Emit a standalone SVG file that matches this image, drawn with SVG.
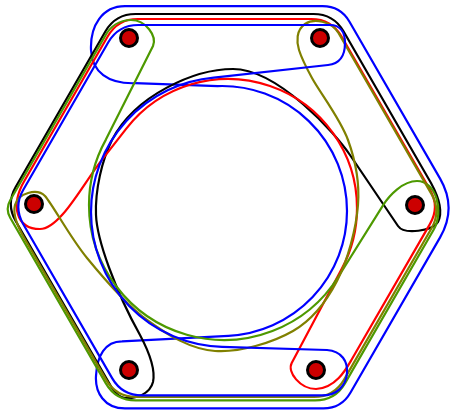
<svg xmlns="http://www.w3.org/2000/svg" width="451" height="416" viewBox="0 0 451 416">
<style>
.c{fill:none;stroke-width:2.2;stroke-linejoin:round;stroke-linecap:round}
.n{fill:#cc0000;stroke:#000;stroke-width:3}
</style>
<rect width="451" height="416" fill="#fff"/>
<g id="connectors">
<path id="blue-outer" class="c" stroke="#0000ff" d="M125,6.1 L322.5,6.1 Q340.5,6.1 349.5,21.7 L440.1,178.6 Q457.1,208 440.1,237.4 L350.4,392.8 Q341.4,408.4 323.4,408.4 L125,408.4 C104,408.4 95,392 96,376 C97,356 105,341.4 122,341.4 L228.5,335.8 A125 125 0 0 0 347,211 A125 125 0 0 0 217.6,86.1 L135,83.2 C108,84 92,72 91,50 C90,26 102,6.1 125,6.1 Z"/>
<path id="black" class="c" stroke="#000000" d="M112,388 L15.8,221.3 Q5.8,204 15.8,186.7 L105.5,31.3 Q115.5,14 135.5,14 L313.5,14 Q333.5,14 343.5,31.3 L431,183 C437,194 444,210 438,222 C433,231 404,235 398,226 L350,155 C336,134 278,69 233,69 C195,69 135,95 112,140 C102,160 95,190 96,215 C97,240 115,290 140,335 C148,350 156,368 153,382 C150,394 136,399 125,398 C119,397 115,393 112,388 Z"/>
<path id="red" class="c" stroke="#ff0000" d="M137.8,19 L311.4,19 Q331.4,19 341.4,36.3 L429.9,189.5 Q439.9,206.8 429.9,224.1 L351.4,360 C346.4,368.7 336,388 316,389 C300,389 287,372 291.7,363.1 L341.9,268.6 A129 129 0 0 0 357,208 A129 129 0 0 0 126.3,128.6 L101.7,160.1 C83.2,183.7 60,229 40,229 C16,229 10.3,205.2 24.3,181 L107.8,36.3 Q117.8,19 137.8,19 Z"/>
<path id="green" class="c" stroke="#4d9900" d="M105.1,36 C110,27 119,20 131,20 C146,20 157,36 153,46 L105.9,139.6 A135 135 0 0 0 89,205 A135 135 0 0 0 338.5,276.5 L383,205.3 C389.4,195.1 403,181 417,181 C436,181 444.5,211 433.5,230 L345.1,383.1 Q335.1,400.4 315.1,400.4 L135.7,400.4 Q115.7,400.4 105.7,383.1 L10.2,217.7 Q5.2,209 10.2,200.3 L105.1,36 Z"/>
<path id="olive" class="c" stroke="#808000" d="M338.5,33 L431.4,193.9 Q441.4,211.2 431.4,228.5 L344.1,379.6 Q334.1,396.9 314.1,396.9 L136,396.9 Q116,396.9 106,379.6 L25.4,240 C20,231 12,216 15,205 C18,193 37,188 45,196 C54,206.8 70,237.3 87,258 C104,278.7 125.7,304.5 147,320 C168.3,335.5 190.7,349.2 215,351 C239.3,352.8 272.7,342.7 293,331 C313.3,319.3 326.2,302 337,281 C347.8,260 356.2,228.5 358,205 C359.8,181.5 355.7,161.2 348,140 C340.3,118.8 320.2,93 312,78 C303.8,63 301.3,57.3 299,50 C296.5,42 296,30 305,24 C314,18 331,21 338.5,33 Z"/>
<path id="blue-inner" class="c" stroke="#0000ff" d="M138.3,25 L330,25 C340,25 345,32 345,43 C345,55 340,64 328,65 L213.8,77.6 A135 135 0 0 0 91,212 A135 135 0 0 0 222,346.9 L327,350 C342,351 348,362 347,373 C346,386 337,395.4 322,395.4 L142.1,395.4 Q122.1,395.4 112.1,378.1 L23.3,224.3 Q13.3,207 23.3,189.7 L108.3,42.3 Q118.3,25 138.3,25 Z"/>
</g>
<g id="node-a"><circle class="n" cx="129" cy="38" r="8.5"/></g>
<g id="node-b"><circle class="n" cx="320" cy="38" r="8.5"/></g>
<g id="node-c"><circle class="n" cx="415" cy="205" r="8.5"/></g>
<g id="node-d"><circle class="n" cx="316" cy="370" r="8.5"/></g>
<g id="node-e"><circle class="n" cx="129" cy="370" r="8.5"/></g>
<g id="node-f"><circle class="n" cx="34" cy="204" r="8.5"/></g>
</svg>
